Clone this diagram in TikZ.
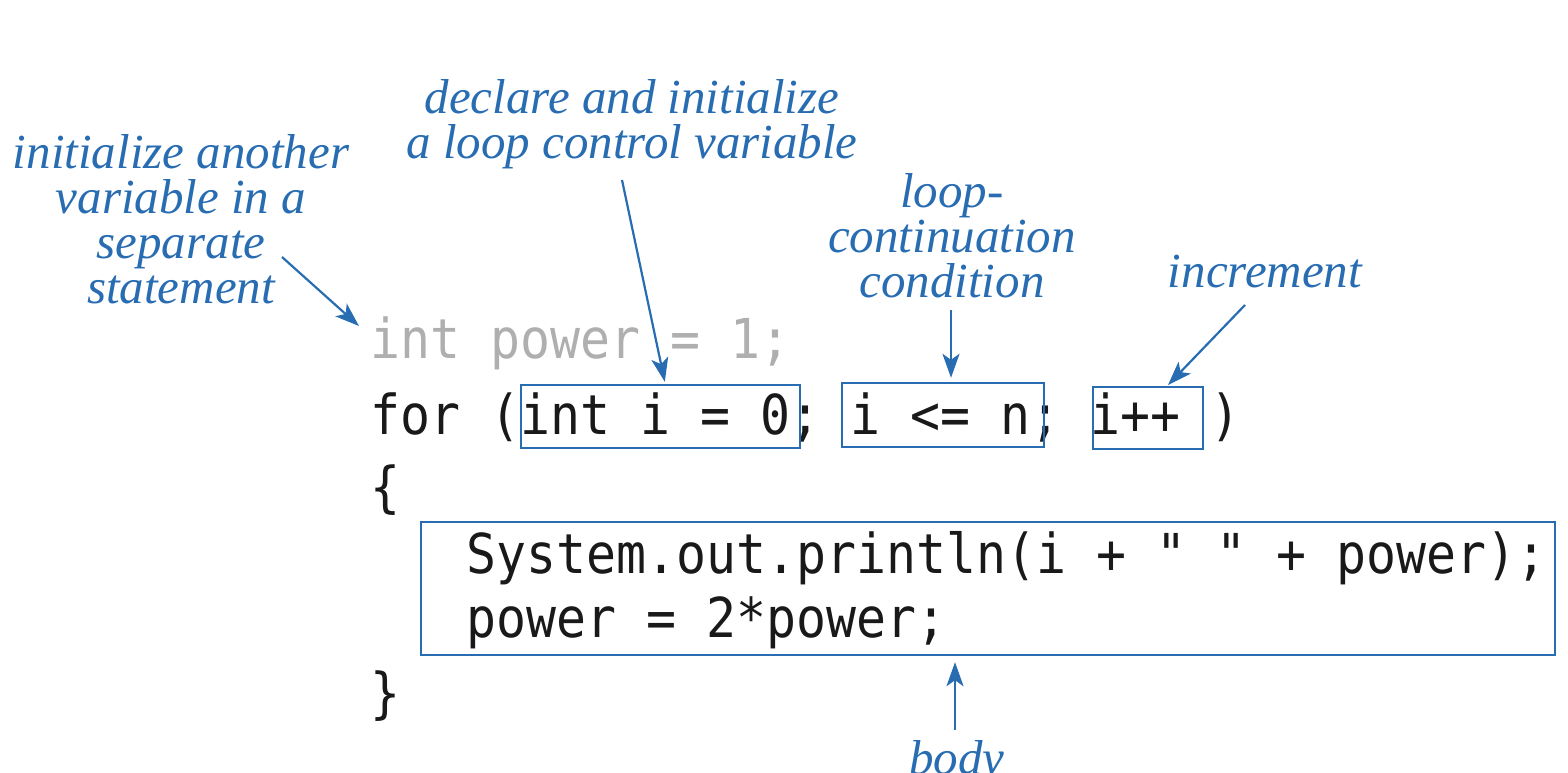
\documentclass[tikz,border=0pt]{standalone}
\usepackage{fontspec}
\setmainfont{Liberation Serif}
\newfontfamily\codefont[FakeStretch=0.906]{DejaVu Sans Mono}
\usetikzlibrary{arrows.meta,calc}
\definecolor{annot}{RGB}{40,108,178}
\definecolor{codegray}{RGB}{175,175,175}
\definecolor{codeblack}{RGB}{25,25,25}
\begin{document}
\begin{tikzpicture}[x=0.5pt,y=-0.5pt,
  note/.style={text=annot, font=\fontsize{24.5}{22.5}\selectfont\itshape, align=center, inner sep=0pt, anchor=base},
  code/.style={font=\fontsize{27.5}{30}\selectfont\codefont, anchor=base west, inner sep=0pt, text=codeblack},
  hl/.style={draw=annot, line width=1.2pt, inner sep=0pt},
  arr/.style={draw=annot, line width=1.1pt, -{Stealth[length=12pt,width=8.5pt,inset=3pt]}}]
\useasboundingbox (0,0) rectangle (1568,772);
\clip (0,0) rectangle (1568,772);
% code
\node[code, text=codegray] (l1) at (370,358) {int power = 1;};
\node[code] (l2) at (370,434) {for (int i = 0; i <= n; i++ )};
\node[code] (l3) at (370,506) {\{};
\node[code] (l4) at (466,573) {System.out.println(i + " " + power);};
\node[code] (l5) at (466,637) {power = 2*power;};
\node[code] (l6) at (370,712) {\}};
% boxes
\node[hl, minimum width=139.5pt, minimum height=31.5pt] (boxA) at (660.5,416.5) {};
\node[hl, minimum width=101pt, minimum height=32pt] (boxB) at (943,415) {};
\node[hl, minimum width=55pt, minimum height=31pt] (boxC) at (1148,418) {};
\node[hl, minimum width=567pt, minimum height=66.5pt] (body) at (988,588.5) {};
% notes (anchor base = baseline of last line)
\node[note] (n1) at (181,303) {initialize another\\variable in a\\separate\\statement};
\node[note] (n2) at (632,158) {declare and initialize\\a loop control variable};
\node[note] (n3) at (952,297) {loop-\\continuation\\condition};
\node[note] (n4) at (1265,287) {increment};
\node[note] (n5) at (957,774) {body};
% arrow ends
\coordinate (s1) at (282,257);
\coordinate (t1) at (359,326);
\coordinate (s2) at (622,180);
\coordinate (s3) at (951,310);
\coordinate (s4) at (1245,305);
\coordinate (t4) at (1168,385);
\coordinate (s5) at (955,730);
\draw[arr] (s1) -- (t1);
\draw[arr] (s2) -- ($(boxA.north west)+(145,-2)$);
\draw[arr, shorten >=2pt] (s3) -- (s3 |- boxB.north);
\draw[arr] (s4) -- (t4);
\draw[arr, shorten >=3pt] (s5) -- (s5 |- body.south);
\end{tikzpicture}
\end{document}
